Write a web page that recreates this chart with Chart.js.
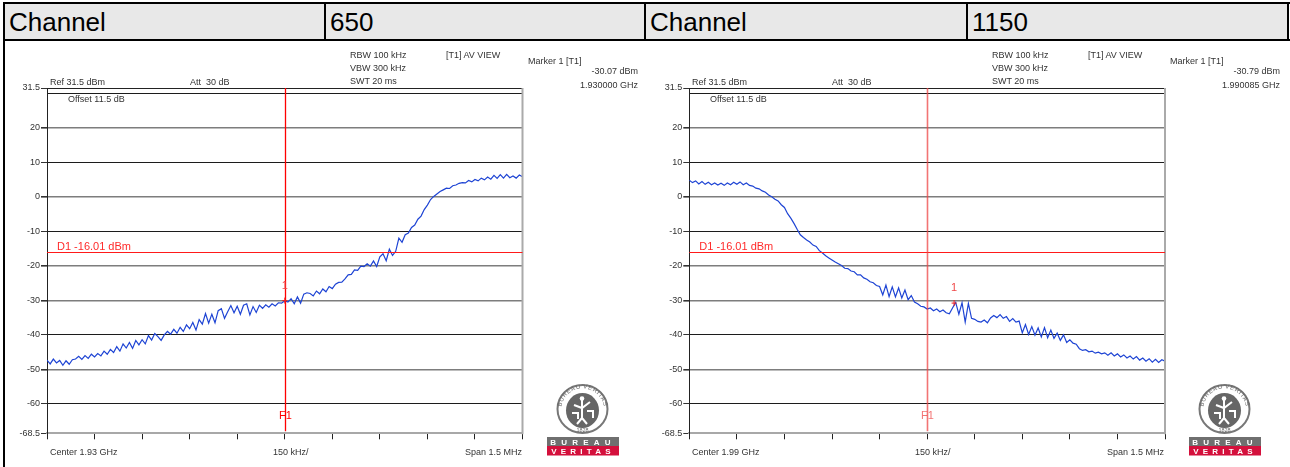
<!DOCTYPE html>
<html>
<head>
<meta charset="utf-8">
<script src="https://cdn.jsdelivr.net/npm/chart.js@4.4.1/dist/chart.umd.min.js"></script>
<style>
  body { margin: 0; background: #fff; }
  #page { position: relative; width: 1290px; height: 467px; overflow: hidden; font-family: 'Liberation Sans', Arial, sans-serif; }
  .hcell { position: absolute; top: 4px; height: 36px; background: #e8e8e8; font-size: 26px; line-height: 37px; color: #000; padding-left: 4px; box-sizing: border-box; }
  .rule { position: absolute; background: #000; }
  .txt { position: absolute; font-size: 9px; line-height: 10px; color: #333; white-space: pre; z-index: 2; }
  .txt.r { transform: translateX(-100%); }
  canvas { position: absolute; top: 40px; }
  .logo { position: absolute; top: 383px; z-index: 2; }
</style>
</head>
<body>
<div id="page">
  <div class="hcell" style="left:5px;width:319px">Channel</div>
  <div class="hcell" style="left:326px;width:318px" id="ch0"></div>
  <div class="hcell" style="left:646px;width:320px">Channel</div>
  <div class="hcell" style="left:968px;width:319px" id="ch1"></div>
  <div class="rule" style="left:3px;top:2px;width:1287px;height:2px"></div>
  <div class="rule" style="left:3px;top:39px;width:1287px;height:2px"></div>
  <div class="rule" style="left:3px;top:2px;width:2px;height:465px"></div>
  <div class="rule" style="left:324px;top:2px;width:2px;height:38px"></div>
  <div class="rule" style="left:644px;top:2px;width:2px;height:38px"></div>
  <div class="rule" style="left:966px;top:2px;width:2px;height:38px"></div>
  <div class="rule" style="left:1287px;top:2px;width:2px;height:38px"></div>
  <canvas id="chartL" width="645" height="427" style="left:0px;width:645px;height:427px"></canvas>
  <canvas id="chartR" width="645" height="427" style="left:645px;width:645px;height:427px"></canvas>
</div>
<script>
// sweep: centre +/- 750 kHz, 10 kHz per point
const channels = ['650', '1150'];
const centres = ['1.93 GHz', '1.99 GHz'];
const freqKHz = Array.from({ length: 151 }, (_, i) => -750 + 10 * i);
const yTicks = [31.5, 30, 20, 10, 0, -10, -20, -30, -40, -50, -60, -68.5];
const displayLine = -16.01;
const markerKHz = [0, 85];
const markerLevel = [-30.07, -30.79];
const markerFreq = ['1.930000 GHz', '1.990085 GHz'];

const traceCh650 = [
  -47.3, -48.4, -47.0, -48.1, -47.4, -48.8, -47.5, -48.5, -47.2, -47.0,
  -46.2, -47.1, -46.0, -46.8, -45.6, -46.4, -45.4, -46.1, -44.7, -45.6,
  -44.2, -45.1, -43.4, -44.7, -42.6, -43.8, -42.2, -43.9, -41.6, -42.9,
  -41.4, -42.6, -40.2, -41.5, -39.6, -40.5, -41.6, -40.0, -39.0, -39.8,
  -38.4, -39.5, -37.8, -39.0, -37.1, -38.2, -36.4, -38.6, -35.6, -36.9,
  -33.8, -36.6, -34.0, -36.5, -33.0, -32.4, -35.2, -33.3, -31.5, -33.6,
  -31.7, -34.0, -31.4, -31.0, -34.2, -31.8, -33.5, -31.4, -32.3, -31.3,
  -32.0, -31.0, -31.6, -30.7, -30.8, -30.1, -30.5, -29.5, -31.0, -29.0,
  -30.8, -28.2, -27.8, -28.0, -28.7, -27.3, -28.1, -26.7, -27.5, -26.0,
  -26.6, -25.3, -24.8, -24.7, -23.8, -22.6, -22.5, -21.2, -21.3, -20.1,
  -20.2, -19.4, -20.1, -18.6, -20.2, -17.4, -16.5, -18.5, -15.2, -17.0,
  -15.8, -12.0, -13.2, -11.0, -10.5, -8.9, -8.2, -6.5, -5.6, -3.7,
  -2.4, -0.8, 0.1, 0.8, 1.5, 2.0, 2.5, 2.4, 3.2, 3.4,
  3.9, 4.1, 4.0, 4.7, 4.3, 5.0, 4.6, 5.4, 4.9, 5.7,
  5.1, 6.2, 5.3, 6.4, 5.4, 6.5, 5.5, 6.0, 5.4, 6.3,
  5.8
];

const traceCh1150 = [
  4.8, 4.1, 4.6, 3.7, 4.4, 3.6, 4.2, 3.5, 4.0, 3.4,
  3.9, 3.3, 4.0, 3.5, 4.2, 3.6, 4.3, 3.5, 4.0, 3.3,
  3.1, 2.5, 2.3, 1.7, 1.3, 0.5, 0.0, -0.7, -1.2, -2.3,
  -3.1, -4.9, -6.2, -7.7, -9.4, -11.0, -11.8, -12.5, -13.1, -14.0,
  -14.4, -15.6, -16.3, -17.1, -17.7, -18.3, -18.9, -19.4, -19.9, -20.7,
  -20.8, -21.5, -21.7, -22.6, -22.6, -23.5, -23.9, -24.6, -24.9, -25.7,
  -26.0, -28.4, -25.6, -28.9, -26.1, -29.0, -26.4, -29.3, -27.0, -29.8,
  -28.6, -30.5, -31.0, -31.7, -31.9, -32.5, -32.2, -33.0, -32.5, -33.3,
  -32.8, -33.6, -33.9, -32.2, -30.6, -34.0, -30.7, -36.3, -30.9, -35.2,
  -35.5, -36.1, -36.3, -35.7, -36.5, -35.1, -34.4, -35.0, -34.1, -35.2,
  -34.7, -36.1, -35.3, -36.3, -36.0, -39.4, -37.0, -39.9, -37.6, -40.1,
  -38.0, -40.6, -37.9, -40.8, -38.6, -41.0, -39.5, -41.6, -40.0, -42.2,
  -41.4, -42.4, -42.7, -44.0, -44.5, -44.3, -44.9, -44.7, -45.3, -45.0,
  -45.5, -45.2, -45.9, -45.2, -46.1, -45.5, -46.4, -45.8, -46.7, -46.1,
  -47.0, -46.3, -47.3, -46.7, -47.6, -46.9, -47.9, -47.1, -48.0, -47.2,
  -47.6
];

const page = document.getElementById('page');
document.getElementById('ch0').textContent = channels[0];
document.getElementById('ch1').textContent = channels[1];

function addText(x, y, str, right) {
  const d = document.createElement('div');
  d.className = 'txt' + (right ? ' r' : '');
  d.style.left = x + 'px';
  d.style.top = (y - 5) + 'px';
  d.textContent = str;
  page.appendChild(d);
}

const logoSvg =
  '<svg width="72" height="73" viewBox="0 0 72 73">' +
  '<defs><path id="arcP" d="M14 27 A21.5 21.5 0 0 1 57 27"/></defs>' +
  '<ellipse cx="35.5" cy="26" rx="25" ry="24" fill="#fff" stroke="#777" stroke-width="2"/>' +
  '<text font-family="Liberation Sans" font-size="6" fill="#666" letter-spacing="0.6"><textPath href="#arcP" startOffset="50%" text-anchor="middle">BUREAU VERITAS</textPath></text>' +
  '<ellipse cx="35.5" cy="27.5" rx="16.5" ry="17.5" fill="#666"/>' +
  '<path d="M35 17 L35 35 M27 22 L35 25 L43 19 M35 35 L30 41 M35 35 L40 41 M25 30 L31 30 L31 36 M40 28 L46 28 L46 35" stroke="#fff" stroke-width="2" fill="none"/>' +
  '<circle cx="35" cy="15.5" r="2.3" fill="#fff"/>' +
  '<text x="35.5" y="48.5" font-family="Liberation Sans" font-size="5.5" fill="#666" text-anchor="middle">1828</text>' +
  '<rect x="0" y="54" width="72" height="9" fill="#6f6f6f"/>' +
  '<text x="36" y="61.5" font-family="Liberation Sans" font-size="8" font-weight="bold" fill="#fff" text-anchor="middle" letter-spacing="5.2">BUREAU</text>' +
  '<rect x="0" y="63" width="72" height="9.5" fill="#d4103c"/>' +
  '<text x="36" y="70.8" font-family="Liberation Sans" font-size="8" font-weight="bold" fill="#fff" text-anchor="middle" letter-spacing="4.2">VERITAS</text>' +
  '</svg>';

function addPanelTexts(idx, dx) {
  addText(50 + dx, 82, 'Ref 31.5 dBm');
  addText(190 + dx, 82, 'Att  30 dB');
  addText(350 + dx, 55, 'RBW 100 kHz');
  addText(350 + dx, 68, 'VBW 300 kHz');
  addText(350 + dx, 81, 'SWT 20 ms');
  addText(446 + dx, 55, '[T1] AV VIEW');
  addText(528 + dx, 61, 'Marker 1 [T1]');
  addText(638 + dx, 71, markerLevel[idx].toFixed(2) + ' dBm', true);
  addText(638 + dx, 85, markerFreq[idx], true);
  addText(68 + dx, 99, 'Offset 11.5 dB');
  addText(50 + dx, 452, 'Center ' + centres[idx]);
  addText(273 + dx, 452, '150 kHz/');
  addText(522 + dx, 452, 'Span 1.5 MHz', true);
  const logo = document.createElement('div');
  logo.className = 'logo';
  logo.style.left = (547 + dx) + 'px';
  logo.innerHTML = logoSvg;
  page.appendChild(logo);
}
addPanelTexts(0, 0);
addPanelTexts(1, 642);

function gridColor(v) {
  if (v === 31.5) return '#222';
  if (v === -68.5) return '#9a9a9a';
  if ([20, 0, -20, -30, -50].includes(v)) return '#7d7d7d';
  return '#1c1c1c';
}

function fspPlugin(idx, vColor, vWidth) {
  return {
    id: 'fsp' + idx,
    afterDatasetsDraw(chart) {
      const { ctx, chartArea: a, scales: { x, y } } = chart;
      ctx.save();
      ctx.strokeStyle = '#aaa';
      ctx.lineWidth = 2;
      ctx.beginPath();
      ctx.moveTo(a.right, a.top);
      ctx.lineTo(a.right, a.bottom + 1);
      ctx.stroke();

      // display line D1
      const yd = Math.round(y.getPixelForValue(displayLine)) + 0.5;
      ctx.strokeStyle = '#ff1a1a';
      ctx.lineWidth = 1;
      ctx.beginPath();
      ctx.moveTo(a.left, yd);
      ctx.lineTo(a.right, yd);
      ctx.stroke();
      ctx.fillStyle = '#ff2a2a';
      ctx.font = '11px "Liberation Sans"';
      ctx.textBaseline = 'alphabetic';
      ctx.textAlign = 'left';
      ctx.fillText('D1 -16.01 dBm', a.left + 10, yd - 3);

      // frequency line F1 at centre
      const xf = Math.round(x.getPixelForValue(0)) + 0.5;
      ctx.strokeStyle = vColor;
      ctx.lineWidth = vWidth;
      ctx.beginPath();
      ctx.moveTo(xf, a.top);
      ctx.lineTo(xf, a.bottom - 2);
      ctx.stroke();
      ctx.fillStyle = vColor;
      ctx.textAlign = 'center';
      ctx.fillText('F1', xf, a.bottom - 14);

      // marker 1
      const xm = x.getPixelForValue(markerKHz[idx]);
      const ym = y.getPixelForValue(markerLevel[idx]);
      ctx.fillStyle = '#f04848';
      ctx.fillText('1', xm, ym - 12);
      ctx.strokeStyle = '#f02020';
      ctx.lineWidth = 1;
      ctx.beginPath();
      ctx.moveTo(xm - 2.5, ym);
      ctx.lineTo(xm + 2.5, ym);
      ctx.moveTo(xm, ym - 3);
      ctx.lineTo(xm, ym + 3);
      ctx.stroke();
      ctx.restore();
    }
  };
}

function makeChart(canvasId, idx, trace, axisW, padRight, vColor, vWidth) {
  const ctx = document.getElementById(canvasId).getContext('2d');
  return new Chart(ctx, {
    type: 'line',
    data: {
      datasets: [{
        data: trace.map((v, i) => ({ x: freqKHz[i], y: v })),
        borderColor: '#1e44d4',
        borderWidth: 1.2,
        pointRadius: 0,
        tension: 0
      }]
    },
    options: {
      responsive: false,
      animation: false,
      events: [],
      layout: { padding: { top: 48, right: padRight, bottom: 0, left: 0 } },
      plugins: { legend: { display: false }, tooltip: { enabled: false } },
      scales: {
        x: {
          type: 'linear',
          min: -750,
          max: 750,
          ticks: { display: false, stepSize: 150 },
          grid: { drawOnChartArea: false, tickLength: 6, tickColor: '#222' },
          border: { color: '#a8a8a8', width: 2 },
          afterFit: (s) => { s.height = 33.7; }
        },
        y: {
          min: -68.5,
          max: 31.5,
          afterBuildTicks: (s) => { s.ticks = yTicks.map(v => ({ value: v })); },
          ticks: {
            autoSkip: false,
            padding: 1,
            color: '#333',
            font: { family: 'Liberation Sans', size: 9 },
            callback: (v) => (v === 30 ? '' : String(v))
          },
          grid: {
            color: (c) => gridColor(c.tick.value),
            lineWidth: (c) => ([20, 0, -20, -30, -50].includes(c.tick.value) ? 1.6 : 1),
            tickLength: 6,
            tickColor: (c) => (c.tick.value === 30 ? 'rgba(0,0,0,0)' : '#333')
          },
          border: { color: '#222', width: 1 },
          afterFit: (s) => { s.width = axisW; }
        }
      }
    },
    plugins: [fspPlugin(idx, vColor, vWidth)]
  });
}

makeChart('chartL', 0, traceCh650, 47, 122.5, '#ff0000', 1.3);
makeChart('chartR', 1, traceCh1150, 44.3, 125, 'rgba(238,70,70,0.75)', 1.6);
</script>
</body>
</html>
